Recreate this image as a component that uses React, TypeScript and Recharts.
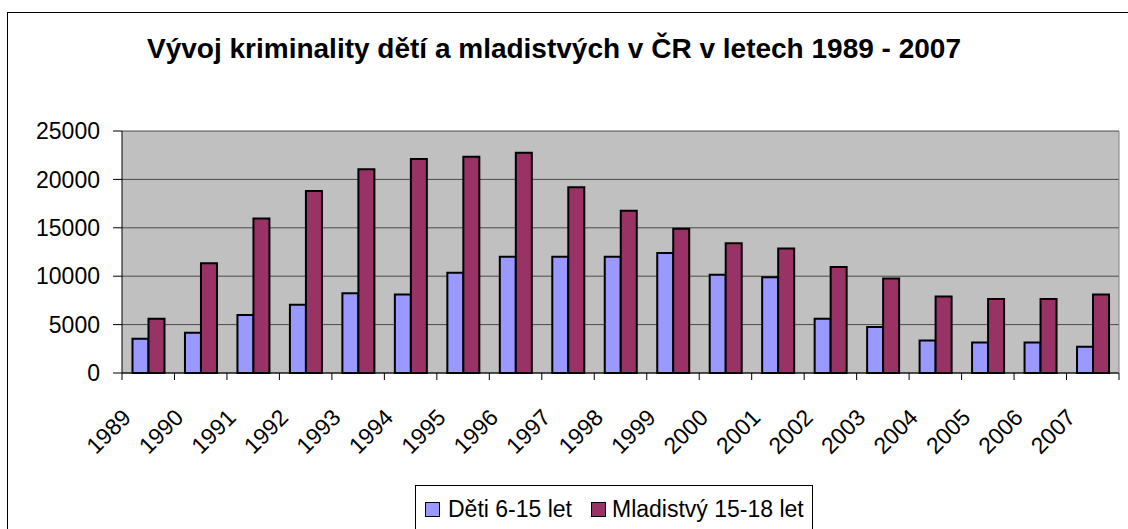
import React from 'react';
import { BarChart, Bar, XAxis, YAxis, CartesianGrid } from 'recharts';

const years = ['1989', '1990', '1991', '1992', '1993', '1994', '1995', '1996', '1997', '1998',
    '1999', '2000', '2001', '2002', '2003', '2004', '2005', '2006', '2007'];
const deti = [3550, 4150, 6000, 7050, 8250, 8100, 10350, 12000, 12000, 12000,
    12400, 10150, 9900, 5600, 4750, 3350, 3150, 3150, 2700];
const mladistvi = [5600, 11350, 15950, 18800, 21050, 22100, 22350, 22750, 19200, 16750,
    14900, 13400, 12850, 10950, 9750, 7900, 7650, 7650, 8100];
const yTicks = [0, 5000, 10000, 15000, 20000, 25000];

const data = years.map((year, i) => ({ year, deti: deti[i], mladistvi: mladistvi[i] }));

const FONT = '"Liberation Sans", Arial, sans-serif';
const W = 1128;
const H = 529;
const MARGIN = { top: 131, right: 0, bottom: 96, left: 22 };
const PLOT_W = W - MARGIN.left - 100 - 9;
const BAND = PLOT_W / years.length;

const XTick = (props: any) => {
    const { x, y, payload, index } = props;
    const half = BAND / 2;
    const tx = x - 16;
    const ty = y + 46;
    return (
        <g>
            <line x1={x - half} y1={y} x2={x - half} y2={y + 7} stroke="#000" />
            {index === years.length - 1 && (
                <line x1={x + half} y1={y} x2={x + half} y2={y + 7} stroke="#000" />
            )}
            <text
                x={tx}
                y={ty}
                textAnchor="end"
                transform={`rotate(-45, ${tx}, ${ty})`}
                fontSize={23}
                fontFamily={FONT}
                fill="#000"
            >
                {payload.value}
            </text>
        </g>
    );
};

const App: React.FC = () => {
    return (
        <div style={{ position: 'fixed', left: 0, top: 0, width: W, height: H, overflow: 'hidden', background: '#fff' }}>
            <div style={{
                position: 'absolute', left: 7, top: 12, width: 1300, height: 700,
                borderLeft: '1px solid #000', borderTop: '1px solid #000'
            }} />
            <div style={{ position: 'absolute', left: 0, top: 0 }}>
                <BarChart width={W} height={H} data={data} margin={MARGIN} barCategoryGap="20%" barGap={0}>
                    <CartesianGrid vertical={false} stroke="#4a4a4a" fill="#C0C0C0" fillOpacity={1} />
                    <XAxis
                        dataKey="year"
                        axisLine={{ stroke: '#000' }}
                        tickLine={false}
                        tickSize={0}
                        tickMargin={0}
                        height={60}
                        interval={0}
                        tick={<XTick />}
                    />
                    <YAxis
                        domain={[0, 25000]}
                        ticks={yTicks}
                        width={100}
                        axisLine={{ stroke: '#000' }}
                        tickLine={{ stroke: '#000' }}
                        tickSize={9}
                        tickMargin={13}
                        tick={{ fill: '#000', fontSize: 23, fontFamily: FONT }}
                    />
                    <YAxis
                        yAxisId="right"
                        orientation="right"
                        width={9}
                        domain={[0, 25000]}
                        tick={false}
                        tickLine={false}
                        axisLine={{ stroke: '#808080' }}
                    />
                    <Bar dataKey="deti" fill="#9999FF" stroke="#000" strokeWidth={2} isAnimationActive={false} />
                    <Bar dataKey="mladistvi" fill="#993366" stroke="#000" strokeWidth={2} isAnimationActive={false} />
                </BarChart>
            </div>
            <svg width={W} height={H} style={{ position: 'absolute', left: 0, top: 0, pointerEvents: 'none' }}>
                <text x={554} y={58} textAnchor="middle" fontSize={28} fontWeight="bold" fontFamily={FONT} fill="#000">
                    Vývoj kriminality dětí a mladistvých v ČR v letech 1989 - 2007
                </text>
                <rect x={415.5} y={485.5} width={397} height={80} fill="#fff" stroke="#000" />
                <rect x={425.5} y={502.5} width={14} height={14} fill="#9999FF" stroke="#000" />
                <text x={448} y={517} fontSize={23} fontFamily={FONT} fill="#000">Děti 6-15 let</text>
                <rect x={591.5} y={502.5} width={14} height={14} fill="#993366" stroke="#000" />
                <text x={612} y={517} fontSize={23} fontFamily={FONT} fill="#000">Mladistvý 15-18 let</text>
            </svg>
        </div>
    );
};

export default App;
